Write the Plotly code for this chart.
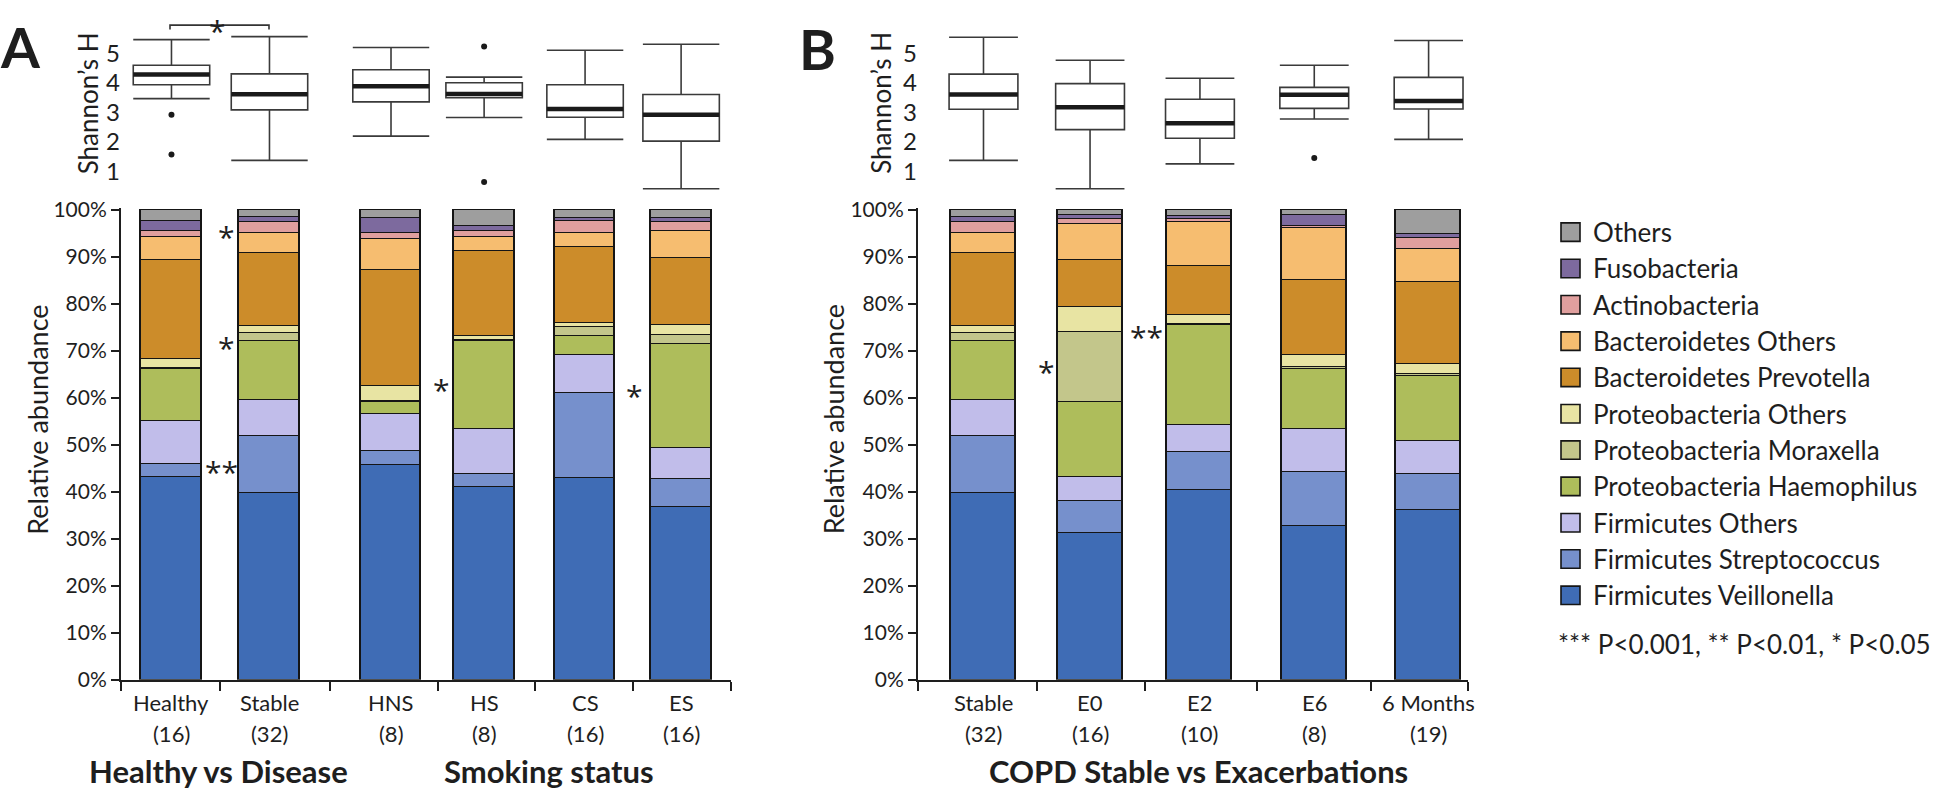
import plotly.graph_objects as go

# taxa, from the bottom of each stack to the top
taxa = ["Firmicutes Veillonella", "Firmicutes Streptococcus", "Firmicutes Others",
        "Proteobacteria Haemophilus", "Proteobacteria Moraxella", "Proteobacteria Others",
        "Bacteroidetes Prevotella", "Bacteroidetes Others", "Actinobacteria",
        "Fusobacteria", "Others"]
colors = ["#3f6cb5", "#7690cc", "#c1bdea", "#aebd5b", "#c3c68b", "#e8e4a3",
          "#cc8c2a", "#f6bd70", "#e09f9e", "#7d6a9e", "#9e9e9e"]

groups_a = ["Healthy", "Stable", "HNS", "HS", "CS", "ES"]
n_a = [16, 32, 8, 8, 16, 16]
groups_b = ["Stable", "E0", "E2", "E6", "6 Months"]
n_b = [32, 16, 10, 8, 19]

# relative abundance (%) per group, same order as taxa
healthy = [43.1, 2.9, 9.1, 11.1, 0.2, 1.9, 21.1, 4.8, 1.3, 2.1, 2.4]
stable = [39.8, 12.0, 7.7, 12.5, 1.8, 1.5, 15.5, 4.3, 2.3, 1.1, 1.5]
hns = [45.6, 3.1, 7.8, 2.6, 0.3, 3.0, 24.8, 6.7, 1.1, 3.2, 1.8]
hs = [40.9, 2.9, 9.6, 18.6, 0.3, 0.8, 18.1, 3.1, 1.2, 1.0, 3.5]
cs = [42.9, 18.2, 8.0, 4.0, 2.0, 0.8, 16.1, 3.0, 2.7, 0.6, 1.7]
es = [36.7, 6.1, 6.6, 22.1, 1.8, 2.2, 14.2, 5.8, 1.9, 0.9, 1.7]
e0 = [31.2, 6.8, 5.1, 16.1, 14.7, 5.4, 10.1, 7.6, 1.1, 0.8, 1.1]
e2 = [40.4, 8.0, 5.8, 21.3, 0.3, 1.9, 10.3, 9.4, 0.6, 0.8, 1.2]
e6 = [32.6, 11.5, 9.2, 12.9, 0.4, 2.5, 16.0, 11.0, 0.4, 2.5, 1.0]
month6 = [36.0, 7.8, 7.1, 13.7, 0.4, 2.2, 17.4, 7.1, 2.4, 0.7, 5.2]

# Shannon's H box stats
shan_a_low = [3.47, 1.38, 2.20, 2.83, 2.09, 0.42]
shan_a_q1 = [3.94, 3.09, 3.36, 3.50, 2.84, 2.03]
shan_a_med = [4.29, 3.62, 3.89, 3.63, 3.12, 2.92]
shan_a_q3 = [4.60, 4.31, 4.45, 4.01, 3.94, 3.61]
shan_a_high = [5.47, 5.57, 5.20, 4.20, 5.11, 5.31]
out_a_group = ["Healthy", "Healthy", "HS", "HS"]
out_a_value = [2.92, 1.58, 5.24, 0.65]

shan_b_low = [1.38, 0.42, 1.26, 2.78, 2.09]
shan_b_q1 = [3.11, 2.42, 2.13, 3.14, 3.12]
shan_b_med = [3.61, 3.18, 2.64, 3.60, 3.39]
shan_b_q3 = [4.30, 3.98, 3.45, 3.85, 4.19]
shan_b_high = [5.55, 4.77, 4.16, 4.60, 5.44]
out_b_group = ["E6"]
out_b_value = [1.46]

# layout helpers (pixels -> paper)
W, H = 1946, 796
def px(x):
    return x / W
def py(y):
    return 1 - y / H

FONT = "Lato, 'Open Sans', sans-serif"
INK = "#1e1e1e"

pos_a = [0, 1, 2.24, 3.19, 4.22, 5.20]
pos_b = [0, 0.96, 1.95, 2.98, 4.01]
range_a = [-0.515, 5.709]
range_b = [-0.59, 4.365]

fig = go.Figure()


def add_bars(cols, pos, width, xa, ya):
    for i, (name, color) in enumerate(zip(taxa, colors)):
        fig.add_trace(go.Bar(
            x=pos, y=[c[i] for c in cols], width=width, name=name,
            marker=dict(color=color, line=dict(color="#151515", width=1.6)),
            xaxis=xa, yaxis=ya, showlegend=False, hoverinfo="skip"))


def add_boxes(groups, pos, width, low, q1, med, q3, high, out_g, out_v, xa, ya):
    fig.add_trace(go.Box(
        x=pos, lowerfence=low, q1=q1, median=med, q3=q3, upperfence=high,
        width=width, whiskerwidth=1, fillcolor="white",
        line=dict(color="#3a3a3a", width=1.6), boxpoints=False,
        xaxis=xa, yaxis=ya, showlegend=False, hoverinfo="skip"))
    # thick median bars
    mx, my = [], []
    for p, m in zip(pos, med):
        mx += [p - width / 2, p + width / 2, None]
        my += [m, m, None]
    fig.add_trace(go.Scatter(x=mx, y=my, mode="lines", line=dict(color="#1a1a1a", width=4.5),
                             xaxis=xa, yaxis=ya, showlegend=False, hoverinfo="skip"))
    fig.add_trace(go.Scatter(
        x=[pos[groups.index(g)] for g in out_g], y=out_v, mode="markers",
        marker=dict(color="#1a1a1a", size=6), xaxis=xa, yaxis=ya,
        showlegend=False, hoverinfo="skip"))


add_bars([healthy, stable, hns, hs, cs, es], pos_a, 0.62, "x", "y")
add_bars([stable, e0, e2, e6, month6], pos_b, 0.585, "x3", "y3")
add_boxes(groups_a, pos_a, 0.78, shan_a_low, shan_a_q1, shan_a_med, shan_a_q3, shan_a_high,
          out_a_group, out_a_value, "x2", "y2")
add_boxes(groups_b, pos_b, 0.62, shan_b_low, shan_b_q1, shan_b_med, shan_b_q3, shan_b_high,
          out_b_group, out_b_value, "x4", "y4")


def bounds(pos, rng):
    mids = [(a + b) / 2 for a, b in zip(pos[:-1], pos[1:])]
    return [rng[0]] + mids + [rng[1]]


tickfont = dict(family=FONT, size=21, color=INK)
bar_y = dict(range=[0, 100.4], dtick=10, ticksuffix="%", ticks="outside", ticklen=8,
             tickwidth=2, tickcolor=INK, showline=True, linewidth=2, linecolor=INK,
             showgrid=False, zeroline=False, tickfont=tickfont)
box_y = dict(range=[0.122, 5.878], tickvals=[1, 2, 3, 4, 5], ticks="", showline=False,
             showgrid=False, zeroline=False, tickfont=dict(family=FONT, size=24, color=INK))


def bar_x(dom, rng, pos):
    b = bounds(pos, rng)
    return dict(domain=dom, range=rng, tickvals=b, ticktext=[""] * len(b), ticks="outside",
                ticklen=9, tickwidth=2, tickcolor=INK, showline=True, linewidth=2,
                linecolor=INK, showgrid=False, zeroline=False)


dom_a = [px(121), px(731)]
dom_b = [px(918), px(1468)]
bar_dom = [py(687.7), py(202.1)]
box_dom = [py(191), py(16)]

fig.update_layout(
    width=W, height=H, margin=dict(l=0, r=0, t=0, b=0),
    paper_bgcolor="white", plot_bgcolor="white", barmode="stack", bargap=0,
    font=dict(family=FONT, color=INK),
    xaxis=bar_x(dom_a, range_a, pos_a),
    yaxis=dict(domain=bar_dom, **bar_y),
    xaxis2=dict(domain=dom_a, range=range_a, visible=False),
    yaxis2=dict(domain=box_dom, anchor="x2", **box_y),
    xaxis3=dict(anchor="y3", **bar_x(dom_b, range_b, pos_b)),
    yaxis3=dict(domain=bar_dom, anchor="x3", **bar_y),
    xaxis4=dict(domain=dom_b, range=range_b, visible=False, anchor="y4"),
    yaxis4=dict(domain=box_dom, anchor="x4", **box_y),
)

ann = []


def text(x, y, s, size, bold=False, xanchor="center", angle=0, xref="paper", yref="paper",
         yshift=0, family=FONT):
    ann.append(dict(x=x, y=y, xref=xref, yref=yref, text=f"<b>{s}</b>" if bold else s,
                    showarrow=False, xanchor=xanchor, yanchor="middle", textangle=angle,
                    yshift=yshift, font=dict(family=family, size=size, color=INK)))


STAR = "'Open Sans', Lato, sans-serif"

# panel letters and axis titles
text(px(20), py(36), "A", 56, bold=True)
text(px(817), py(38), "B", 56, bold=True)
for cx in (88, 881.5):
    text(px(cx), py(94), "Shannon\u2019s H", 26, angle=-90)
for cx in (38, 833.5):
    text(px(cx), py(420), "Relative abundance", 27, angle=-90)

# category labels
for g, n, p in zip(groups_a, n_a, pos_a):
    text(p, py(711), g, 22, xref="x")
    text(p, py(743), f"({n})", 22, xref="x")
for g, n, p in zip(groups_b, n_b, pos_b):
    text(p, py(711), g, 22, xref="x3")
    text(p, py(743), f"({n})", 22, xref="x3")

text(px(218.5), py(782), "Healthy vs Disease", 31, bold=True)
text(px(548.5), py(782), "Smoking status", 31, bold=True)
text(px(1198), py(782), "COPD Stable vs Exacerbations", 31, bold=True)

# significance marks
stars_a = [(0.566, 96.1, "*"), (0.566, 72.5, "*"), (0.515, 46.0, "**"),
           (2.75, 63.6, "*"), (4.72, 62.2, "*")]
for x, y, s in stars_a:
    text(x, y, s, 30, xref="x", yref="y", yshift=-8, family=STAR)
for x, y, s in [(0.572, 67.3, "*"), (1.465, 74.8, "**")]:
    text(x, y, s, 30, xref="x3", yref="y3", yshift=-8, family=STAR)
text(px(217), py(19.5), "*", 30, family=STAR)

# legend, top entry first
shapes = [dict(type="path", xref="paper", yref="paper",
               path=f"M {px(170)},{py(18)} V {py(13.5)} H {px(269)} V {py(18)}",
               line=dict(color="#333", width=1.6))]
for k, (name, color) in enumerate(zip(taxa[::-1], colors[::-1])):
    cy = 226.7 + k * 37.4
    shapes.append(dict(type="rect", xref="paper", yref="paper",
                       x0=px(1561), x1=px(1580), y0=py(cy + 9.5), y1=py(cy - 9.5),
                       fillcolor=color, line=dict(color="#151515", width=1.6)))
    text(px(1591), py(cy), name, 26, xanchor="left")
text(px(1556), py(651), "*** P&lt;0.001, ** P&lt;0.01, * P&lt;0.05", 26, xanchor="left")

fig.update_layout(annotations=ann, shapes=shapes)
fig.write_html("out.html", config={"displayModeBar": False},
               post_script="document.body.style.margin='0';")
